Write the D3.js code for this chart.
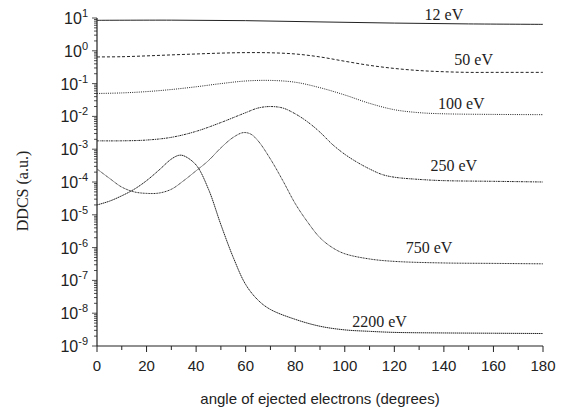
<!DOCTYPE html>
<html>
<head>
<meta charset="utf-8">
<script src="https://cdn.jsdelivr.net/npm/d3@7"></script>
<style>
  body { margin: 0; background: #fff; }
  svg { display: block; }
</style>
</head>
<body>
<svg id="chart"></svg>
<script>
// data: angle (deg) and DDCS (a.u.)
const angles12 = [0, 30, 60, 90, 120, 150, 180];
const ddcs12 = [8.5, 8.6, 8.3, 7.6, 7.0, 6.6, 6.4];

const angles50 = [0, 10, 20, 30, 40, 50, 60, 70, 80, 90, 100, 110, 120, 130, 140, 150, 160, 170, 180];
const ddcs50 = [0.65, 0.66, 0.70, 0.75, 0.80, 0.85, 0.88, 0.87, 0.80, 0.65, 0.48, 0.36, 0.29, 0.25, 0.23, 0.22, 0.22, 0.22, 0.22];

const angles100 = [0, 10, 20, 30, 40, 50, 60, 70, 80, 90, 100, 110, 120, 130, 140, 160, 180];
const ddcs100 = [0.05, 0.052, 0.057, 0.066, 0.08, 0.1, 0.12, 0.125, 0.11, 0.075, 0.045, 0.025, 0.016, 0.013, 0.012, 0.0115, 0.0113];

const angles250 = [0, 10, 20, 30, 40, 50, 60, 65, 70, 75, 80, 85, 90, 95, 100, 105, 110, 115, 120, 130, 140, 160, 180];
const ddcs250 = [0.0018, 0.0018, 0.0019, 0.0023, 0.0035, 0.0065, 0.013, 0.018, 0.02, 0.018, 0.012, 0.0068, 0.0033, 0.0014, 0.0007, 0.0004, 0.00025, 0.00017, 0.00014, 0.00012, 0.00011, 0.000105, 0.0001];

const angles750 = [0, 5, 10, 15, 20, 25, 30, 35, 40, 45, 50, 55, 59, 62, 65, 70, 75, 80, 85, 90, 95, 100, 110, 120, 140, 160, 180];
const ddcs750 = [2.5e-4, 1.3e-4, 7e-5, 5e-5, 4.5e-5, 4.6e-5, 6e-5, 1.1e-4, 2.2e-4, 4.5e-4, 1.1e-3, 2.3e-3, 3.2e-3, 2.9e-3, 1.8e-3, 5e-4, 1.1e-4, 2.2e-5, 6e-6, 2e-6, 1e-6, 6.5e-7, 4.5e-7, 3.8e-7, 3.4e-7, 3.3e-7, 3.2e-7];

const angles2200 = [0, 5, 10, 15, 20, 25, 30, 33, 35, 40, 45, 50, 55, 60, 65, 70, 80, 90, 100, 110, 120, 140, 160, 180];
const ddcs2200 = [2e-5, 2.6e-5, 3.8e-5, 6e-5, 1.1e-4, 2.3e-4, 5e-4, 6.5e-4, 6.3e-4, 3.3e-4, 6e-5, 5e-6, 5e-7, 7.5e-8, 2.5e-8, 1.3e-8, 6.5e-9, 4e-9, 3.1e-9, 2.8e-9, 2.6e-9, 2.5e-9, 2.45e-9, 2.4e-9];

const seriesNames = ["12 eV", "50 eV", "100 eV", "250 eV", "750 eV", "2200 eV"];
// label anchors, in data units (angle, DDCS)
const labelAngles = [140, 152, 147, 144, 134, 114];
const labelValues = [8.7, 0.37, 0.017, 2.2e-4, 6.8e-7, 3.8e-9];

const xTicks = [0, 20, 40, 60, 80, 100, 120, 140, 160, 180];
const yExponents = [1, 0, -1, -2, -3, -4, -5, -6, -7, -8, -9];

function drawChart() {
  const width = 577;
  const height = 418;
  const margin = { top: 18, right: 34, bottom: 72, left: 97 };

  const svg = d3.select("#chart")
    .attr("width", width)
    .attr("height", height);

  const x = d3.scaleLinear()
    .domain([0, 180])
    .range([margin.left, width - margin.right]);

  const y = d3.scaleLog()
    .domain([1e-9, 10])
    .range([height - margin.bottom, margin.top]);

  const allSeries = [
    { angles: angles12, values: ddcs12, dash: null },
    { angles: angles50, values: ddcs50, dash: "3,2" },
    { angles: angles100, values: ddcs100, dash: "1,1.2" },
    { angles: angles250, values: ddcs250, dash: "2,0.8,1,0.8" },
    { angles: angles750, values: ddcs750, dash: "1,0.6" },
    { angles: angles2200, values: ddcs2200, dash: "1.5,0.5" }
  ];

  const line = d3.line()
    .x(d => x(d[0]))
    .y(d => y(d[1]))
    .curve(d3.curveCatmullRom.alpha(0.5));

  svg.selectAll("path.curve")
    .data(allSeries)
    .enter()
    .append("path")
    .attr("class", "curve")
    .attr("fill", "none")
    .attr("stroke", "#222")
    .attr("stroke-width", 1)
    .attr("stroke-dasharray", d => d.dash)
    .attr("d", d => line(d.angles.map((a, i) => [a, d.values[i]])));

  // x axis
  const xMinor = d3.range(0, 181, 10);
  const xAxis = svg.append("g")
    .attr("transform", `translate(0,${y(1e-9)})`);
  xAxis.append("line")
    .attr("x1", x(0)).attr("x2", x(180))
    .attr("stroke", "#222").attr("stroke-width", 1.2);
  xAxis.selectAll("line.tick")
    .data(xMinor)
    .enter()
    .append("line")
    .attr("class", "tick")
    .attr("x1", d => x(d)).attr("x2", d => x(d))
    .attr("y1", 0).attr("y2", d => d % 20 === 0 ? 6 : 4)
    .attr("stroke", "#222").attr("stroke-width", 1);
  xAxis.selectAll("text")
    .data(xTicks)
    .enter()
    .append("text")
    .attr("x", d => x(d))
    .attr("y", 25)
    .attr("text-anchor", "middle")
    .attr("font-family", "Liberation Sans, Arial, sans-serif")
    .attr("font-size", 15)
    .attr("fill", "#222")
    .text(d => d);

  // y axis
  const yAxis = svg.append("g")
    .attr("transform", `translate(${x(0)},0)`);
  yAxis.append("line")
    .attr("y1", y(1e-9)).attr("y2", y(10))
    .attr("stroke", "#222").attr("stroke-width", 1.2);
  const yMinor = y.ticks(90).filter(v => v <= 10);
  yAxis.selectAll("line.tick")
    .data(yMinor)
    .enter()
    .append("line")
    .attr("class", "tick")
    .attr("y1", d => y(d)).attr("y2", d => y(d))
    .attr("x1", 0)
    .attr("x2", d => {
      const m = Math.round(d / Math.pow(10, Math.floor(Math.log10(d) + 1e-9)));
      return m === 1 ? -5 : -3;
    })
    .attr("stroke", "#222").attr("stroke-width", 0.8);
  const yLabels = yAxis.selectAll("text")
    .data(yExponents)
    .enter()
    .append("text")
    .attr("x", -9)
    .attr("y", d => y(Math.pow(10, d)) + 6)
    .attr("text-anchor", "end")
    .attr("font-family", "Liberation Sans, Arial, sans-serif")
    .attr("font-size", 16)
    .attr("fill", "#222");
  yLabels.append("tspan").text("10");
  yLabels.append("tspan")
    .attr("dy", -7)
    .attr("font-size", 11)
    .text(d => d);

  // axis titles
  svg.append("text")
    .attr("x", (x(0) + x(180)) / 2)
    .attr("y", 404)
    .attr("text-anchor", "middle")
    .attr("font-family", "Liberation Sans, Arial, sans-serif")
    .attr("font-size", 15)
    .attr("fill", "#222")
    .text("angle of ejected electrons (degrees)");

  svg.append("text")
    .attr("transform", "translate(28,191) rotate(-90)")
    .attr("text-anchor", "middle")
    .attr("font-family", "Liberation Serif, Times New Roman, serif")
    .attr("font-size", 16)
    .attr("fill", "#222")
    .text("DDCS (a.u.)");

  // curve labels
  svg.selectAll("text.label")
    .data(seriesNames)
    .enter()
    .append("text")
    .attr("class", "label")
    .attr("x", (d, i) => x(labelAngles[i]))
    .attr("y", (d, i) => y(labelValues[i]))
    .attr("text-anchor", "middle")
    .attr("font-family", "Liberation Serif, Times New Roman, serif")
    .attr("font-size", 16)
    .attr("fill", "#222")
    .text(d => d);
}

drawChart();
</script>
</body>
</html>
